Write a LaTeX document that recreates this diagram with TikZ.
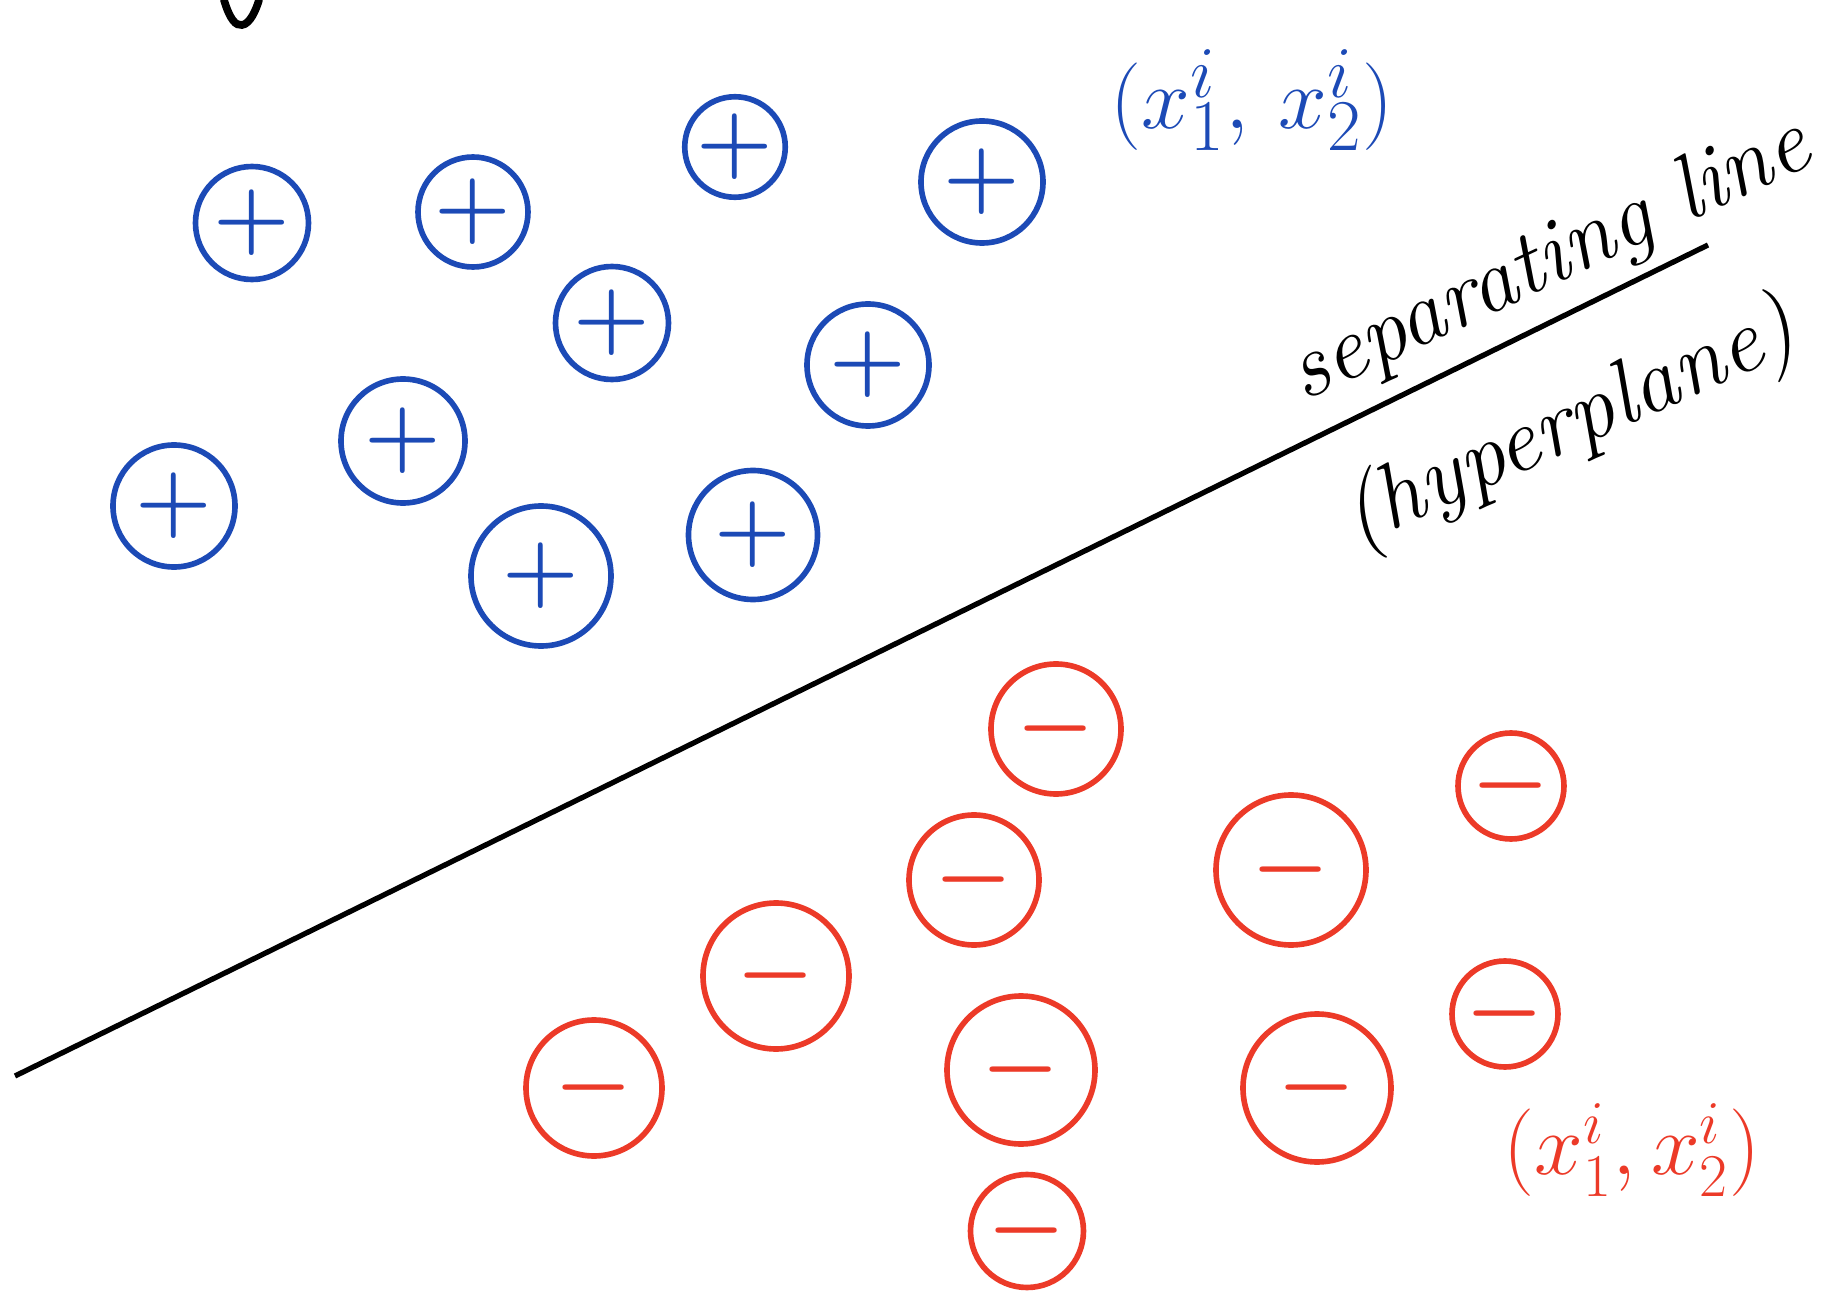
\documentclass[tikz,border=0pt]{standalone}
\usepackage{tikz}
\usetikzlibrary{positioning}
\definecolor{cBlue}{RGB}{28,74,182}
\definecolor{cRed}{RGB}{236,58,40}

\begin{document}
\begin{tikzpicture}[x=0.01cm, y=-0.01cm,
            posdot/.style={circle, draw=cBlue, text=cBlue, line width=1.6pt, inner sep=0pt,
                        font=\fontsize{28}{32}\selectfont\boldmath},
            negdot/.style={circle, draw=cRed, text=cRed, line width=1.6pt, inner sep=0pt,
                        font=\fontsize{28}{32}\selectfont\boldmath}]
            \useasboundingbox (0,0) rectangle (1844,1291);
            % positive class
            \foreach \i/\x/\y/\d in {1/252/223/113,2/473/212/110,3/735/147/100,4/982/182/122,
                                     5/612/323/113,6/868/365/122,7/403/441/124,8/174/506/122,
                                     9/541/576/140,10/753/535/129}{
                \node[posdot, minimum size=\d*0.01cm] (p\i) at (\x,\y) {$+$};}
            % negative class
            \foreach \i/\x/\y/\d in {1/1056/729/130,2/1511/786/106,3/974/880/130,4/1291/870/150,
                                     5/776/976/146,6/594/1088/136,7/1021/1070/148,8/1317/1088/148,
                                     9/1505/1014/106,10/1027/1231/113}{
                \node[negdot, minimum size=\d*0.01cm] (m\i) at (\x,\y) {$-$};}
            % separating line
            \coordinate (la) at (15,1076);
            \coordinate (lb) at (1708,245);
            \draw[line width=1.5pt] (la) -- (lb);
            \node[rotate=25, font=\itshape\fontsize{26}{30}\selectfont] (sep) at (1550,262) {separating line};
            \node[rotate=24, font=\itshape\fontsize{26}{30}\selectfont] (hyp) at (1570,426) {(hyperplane)};
            % sample labels
            \node[text=cBlue, font=\fontsize{30}{36}\selectfont] (lp) at (1252,100) {$(x_1^i,\, x_2^i)$};
            \node[text=cRed, font=\fontsize{27}{32}\selectfont] (lm) at (1632,1150) {$(x_1^i, x_2^i)$};
            % cut-off stroke at the top
            \draw[line width=2.2pt, line cap=round] (224,0) .. controls (230,20) and (236,26) .. (242,25)
                .. controls (250,24) and (256,10) .. (259,0);
        \end{tikzpicture}
\end{document}
